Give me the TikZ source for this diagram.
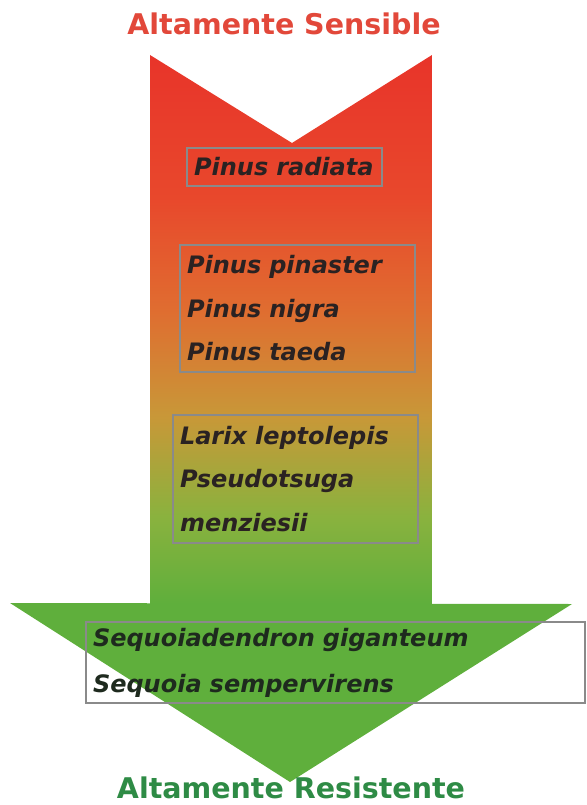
\documentclass[tikz,border=0pt]{standalone}
\usepackage{fontspec}
\setmainfont{DejaVu Sans}
\definecolor{sensred}{HTML}{E8342A}
\definecolor{titlered}{HTML}{E2483A}
\definecolor{midred}{HTML}{E8482C}
\definecolor{sensorange}{HTML}{E06C30}
\definecolor{ochre}{HTML}{C89838}
\definecolor{lime}{HTML}{8AB23E}
\definecolor{resgreen}{HTML}{5FAF3C}
\definecolor{titlegreen}{HTML}{2E8B45}
\definecolor{boxgray}{HTML}{8A8A8A}
\definecolor{specdark}{HTML}{2A2222}
\definecolor{seqdark}{HTML}{1E2A1E}
\pgfdeclareverticalshading{sensres}{100bp}{color(0bp)=(resgreen); color(25bp)=(resgreen);
  color(33bp)=(lime); color(42bp)=(ochre); color(52bp)=(sensorange);
  color(62bp)=(midred); color(75bp)=(sensred); color(100bp)=(sensred)}
\tikzset{
  specbox/.style = {draw=boxgray, line width=1.6pt, inner xsep=7pt, inner ysep=0pt,
                    align=left, text=specdark,
                    font=\bfseries\itshape\fontsize{24}{43.5}\selectfont},
  title/.style = {font=\bfseries\fontsize{28.5}{32}\selectfont}
}
\begin{document}
\begin{tikzpicture}[x=1pt,y=-1pt]
  \useasboundingbox (0,0) rectangle (586,805);
  % shaft with notch
  \shade[shading=sensres]
    (150,55) -- (292,143) -- (432,55) -- (432,604) -- (150,604) -- cycle;
  % head
  \fill[resgreen] (10,603) -- (572,604) -- (290,782) -- cycle;
  \node[title, text=titlered] (sens) at (284,24) {Altamente Sensible};
  \node[title, text=titlegreen] (res) at (291,788) {Altamente Resistente};
  \node[specbox, text width=181pt, minimum height=38pt] (radiata) at (284.5,167)
    {Pinus~radiata};
  \node[specbox, text width=221pt, minimum height=127pt] (pinus) at (297.5,308.5)
    {Pinus pinaster\\ Pinus nigra\\ Pinus taeda};
  \node[specbox, text width=231pt, minimum height=128pt] (larix) at (295.5,479)
    {Larix leptolepis\\ Pseudotsuga\\ menziesii};
  \node[specbox, text=seqdark, text width=485pt, minimum height=81pt,
        font=\bfseries\itshape\fontsize{24}{46}\selectfont] (sequoia) at (335.5,662.5)
    {Sequoiadendron giganteum\\ Sequoia sempervirens};
\end{tikzpicture}
\end{document}
